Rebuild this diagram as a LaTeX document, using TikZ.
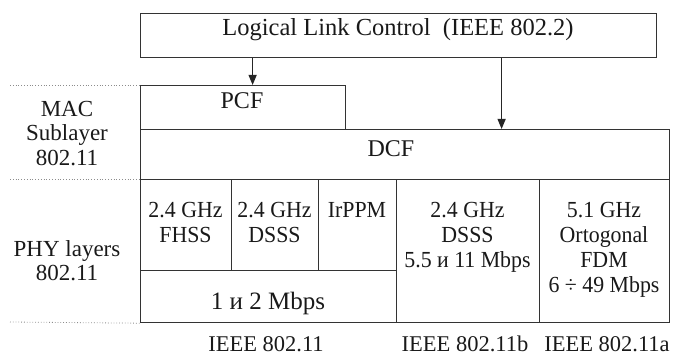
\documentclass[tikz,border=0pt]{standalone}
\usepackage{fontspec}
\setmainfont{Liberation Serif}
\newfontfamily\cellfont[FakeStretch=0.95]{Liberation Serif}
\usetikzlibrary{arrows.meta,positioning}

\begin{document}
\begin{tikzpicture}[x=1pt,y=-1pt,
    box/.style={draw=black!80, line width=1.2pt, inner sep=0pt, anchor=north west},
    txt/.style={inner sep=0pt, align=center, text=black!90},
    arr/.style={-{Triangle[length=10pt,width=8pt]}, draw=black!85, line width=1.2pt},
    sep/.style={draw=black!45, dotted, line width=0.8pt}]
    \useasboundingbox (0,0) rectangle (677,358);

    % 1. MAC boxes
    \node[box, minimum width=516pt, minimum height=44pt] (llc) at (140,13) {};
    \node[box, minimum width=205pt, minimum height=44pt] (pcf) at (140,85) {};
    \node[box, minimum width=529pt, minimum height=50pt] (dcf) at (140,129) {};

    \node[txt, anchor=base, font=\fontsize{24.5}{26}\selectfont] (llctxt) at (398,36) {Logical Link Control\ \ (IEEE 802.2)};
    \node[txt, anchor=base, font=\fontsize{24}{26}\selectfont] (pcftxt) at (242,109) {PCF};
    \node[txt, anchor=base, font=\fontsize{24}{26}\selectfont] (dcftxt) at (391,157) {DCF};

    % 2. arrows from LLC down
    \draw[arr] ([xshift=9.5pt]pcf.north |- llc.south) -- ([xshift=9.5pt]pcf.north);
    \draw[arr] ([xshift=96.5pt]dcf.north |- llc.south) -- ([xshift=96.5pt]dcf.north);

    % 3. PHY cells
    \node[box, minimum width=91pt, minimum height=91pt] (fhss) at (140,179) {};
    \node[box, minimum width=87pt, minimum height=91pt] (dsss) at (231,179) {};
    \node[box, minimum width=78pt, minimum height=91pt] (irppm) at (318,179) {};
    \node[box, minimum width=256pt, minimum height=52pt] (rate) at (140,270) {};
    \node[box, minimum width=143pt, minimum height=143pt] (dsssb) at (396,179) {};
    \node[box, minimum width=130pt, minimum height=143pt] (ofdm) at (539,179) {};

    \node[txt, anchor=north, font=\cellfont\fontsize{23}{25}\selectfont] (fhsstxt) at (185.5,202) {2.4 GHz\\FHSS};
    \node[txt, anchor=north, font=\cellfont\fontsize{23}{25}\selectfont] (dssstxt) at (274.5,202) {2.4 GHz\\DSSS};
    \node[txt, anchor=north, font=\cellfont\fontsize{23}{25}\selectfont] (irppmtxt) at (357,202) {IrPPM};
    \node[txt, anchor=base, font=\fontsize{25}{27}\selectfont] (ratetxt) at (268,309) {1 и 2 Mbps};
    \node[txt, anchor=north, font=\cellfont\fontsize{23}{25}\selectfont] (dsssbtxt) at (467.5,202) {2.4 GHz\\DSSS\\5.5 и 11 Mbps};
    \node[txt, anchor=north, font=\cellfont\fontsize{23}{25}\selectfont] (ofdmtxt) at (604,202) {5.1 GHz\\Ortogonal\\FDM\\6 ÷ 49 Mbps};

    % 4. left side labels and dotted separators
    \draw[sep] (10,85) -- (pcf.north west);
    \draw[sep] (10,179) -- (fhss.north west);
    \draw[sep] (10,322) -- (rate.south west);
    \node[txt, anchor=north, font=\fontsize{23}{24.5}\selectfont] (mac) at (67,101) {MAC\\Sublayer\\802.11};
    \node[txt, anchor=north, font=\fontsize{23}{24.5}\selectfont] (phy) at (67,240) {PHY layers\\802.11};

    % 5. standards under the columns
    \node[txt, anchor=base, font=\fontsize{22.5}{25}\selectfont] (std) at (266,351) {IEEE 802.11};
    \node[txt, anchor=base, font=\fontsize{22.5}{25}\selectfont] (stdb) at (465,351) {IEEE 802.11b};
    \node[txt, anchor=base, font=\fontsize{22.5}{25}\selectfont] (stda) at (607,351) {IEEE 802.11a};
\end{tikzpicture}
\end{document}
